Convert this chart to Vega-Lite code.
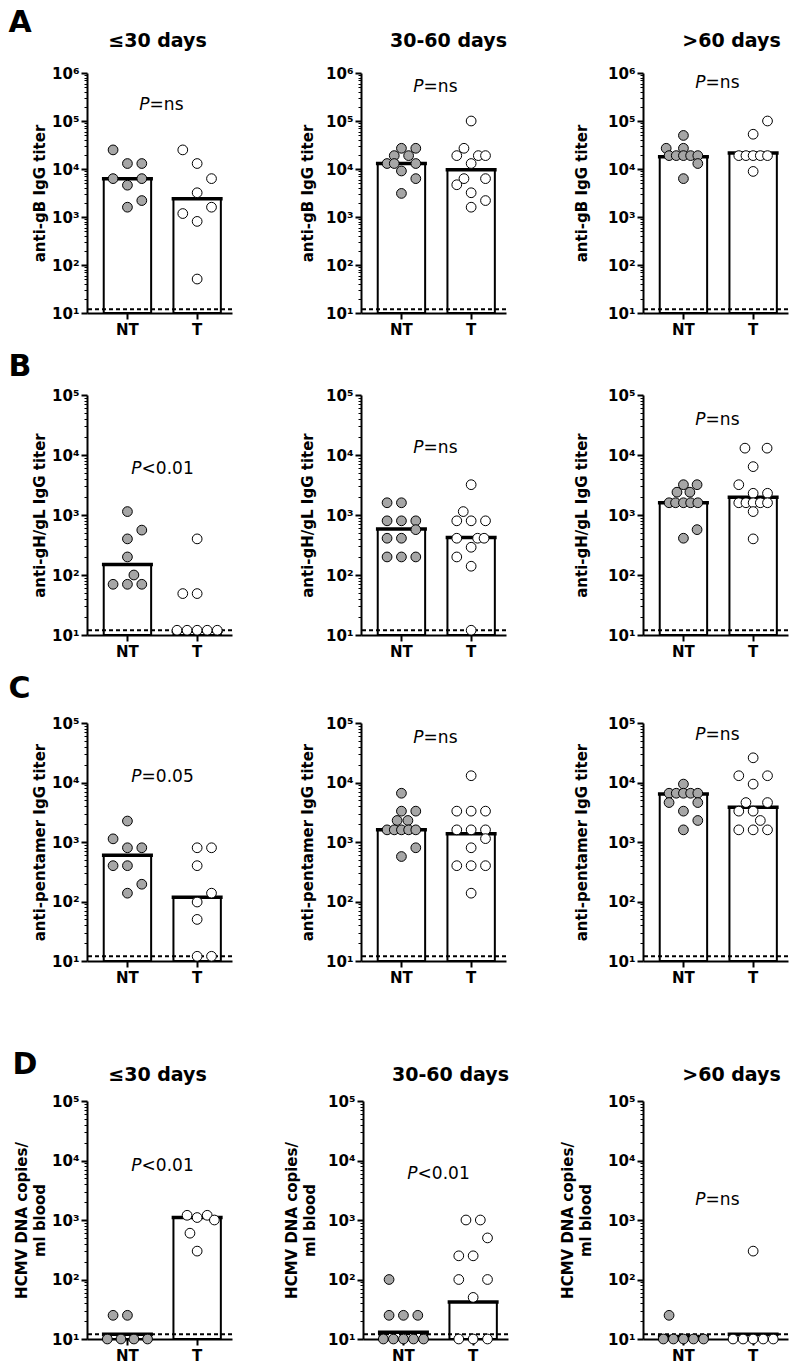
{
"$schema": "https://vega.github.io/schema/vega-lite/v6.json",
"padding": {"left": 8, "top": 8, "right": 0, "bottom": 0},
"config": {
  "view": {"stroke": null},
  "axis": {"domainColor": "black", "domainWidth": 2, "tickColor": "black", "labelColor": "black", "titleColor": "black", "grid": false, "labelFont": "DejaVu Sans", "labelFontWeight": "bold", "labelFontSize": 15, "titleFont": "DejaVu Sans", "titleFontWeight": "bold", "titleFontSize": 15, "labelOverlap": false, "labelBound": false, "labelPadding": 2},
  "axisX": {"tickSize": 6, "tickWidth": 2, "labelAngle": 0, "labelPadding": 3},
  "title": {"font": "DejaVu Sans", "fontWeight": "bold", "color": "black", "fontSize": 19},
  "text": {"font": "DejaVu Sans", "color": "black"}
},
"datasets": {
"gm": [
{"r":"A","c":1,"g":"NT","m":6300},{"r":"A","c":1,"g":"T","m":2400},
{"r":"A","c":2,"g":"NT","m":13000},{"r":"A","c":2,"g":"T","m":9700},
{"r":"A","c":3,"g":"NT","m":18000},{"r":"A","c":3,"g":"T","m":21500},
{"r":"B","c":1,"g":"NT","m":150},{"r":"B","c":1,"g":"T","m":11.5},
{"r":"B","c":2,"g":"NT","m":585},{"r":"B","c":2,"g":"T","m":420},
{"r":"B","c":3,"g":"NT","m":1600},{"r":"B","c":3,"g":"T","m":1970},
{"r":"C","c":1,"g":"NT","m":600},{"r":"C","c":1,"g":"T","m":118},
{"r":"C","c":2,"g":"NT","m":1600},{"r":"C","c":2,"g":"T","m":1380},
{"r":"C","c":3,"g":"NT","m":6400},{"r":"C","c":3,"g":"T","m":3840},
{"r":"D","c":1,"g":"NT","m":12},{"r":"D","c":1,"g":"T","m":1100},
{"r":"D","c":2,"g":"NT","m":13},{"r":"D","c":2,"g":"T","m":42},
{"r":"D","c":3,"g":"NT","m":11},{"r":"D","c":3,"g":"T","m":12}
],
"ptxt": [
{"r":"A","c":1,"label":"=ns","y":220000},{"r":"A","c":2,"label":"=ns","y":500000},{"r":"A","c":3,"label":"=ns","y":620000},
{"r":"B","c":1,"label":"<0.01","y":5900},{"r":"B","c":2,"label":"=ns","y":13000},{"r":"B","c":3,"label":"=ns","y":38000},
{"r":"C","c":1,"label":"=0.05","y":12400},{"r":"C","c":2,"label":"=ns","y":55000},{"r":"C","c":3,"label":"=ns","y":62000},
{"r":"D","c":1,"label":"<0.01","y":8000},{"r":"D","c":2,"label":"<0.01","y":5900},{"r":"D","c":3,"label":"=ns","y":2200}
],
"pts": [
{"r":"A","c":1,"g":"NT","v":25000,"k":-1},{"r":"A","c":1,"g":"NT","v":13000,"k":0},{"r":"A","c":1,"g":"NT","v":13000,"k":1},{"r":"A","c":1,"g":"NT","v":6300,"k":-1},{"r":"A","c":1,"g":"NT","v":6300,"k":1},{"r":"A","c":1,"g":"NT","v":4600,"k":0},{"r":"A","c":1,"g":"NT","v":2200,"k":1},{"r":"A","c":1,"g":"NT","v":1600,"k":0},
{"r":"A","c":1,"g":"T","v":25000,"k":-1},{"r":"A","c":1,"g":"T","v":13000,"k":0},{"r":"A","c":1,"g":"T","v":6300,"k":1},{"r":"A","c":1,"g":"T","v":3200,"k":0},{"r":"A","c":1,"g":"T","v":1600,"k":1},{"r":"A","c":1,"g":"T","v":1180,"k":-1},{"r":"A","c":1,"g":"T","v":810,"k":0},{"r":"A","c":1,"g":"T","v":51,"k":0},
{"r":"A","c":2,"g":"NT","v":27000,"k":0},{"r":"A","c":2,"g":"NT","v":27000,"k":1},{"r":"A","c":2,"g":"NT","v":19000,"k":-0.5},{"r":"A","c":2,"g":"NT","v":19000,"k":0.5},{"r":"A","c":2,"g":"NT","v":13000,"k":-1},{"r":"A","c":2,"g":"NT","v":13000,"k":-0.5},{"r":"A","c":2,"g":"NT","v":13000,"k":1},{"r":"A","c":2,"g":"NT","v":9100,"k":0},{"r":"A","c":2,"g":"NT","v":6300,"k":1},{"r":"A","c":2,"g":"NT","v":3100,"k":0},
{"r":"A","c":2,"g":"T","v":100000,"k":0},{"r":"A","c":2,"g":"T","v":27000,"k":-0.5},{"r":"A","c":2,"g":"T","v":19000,"k":-1},{"r":"A","c":2,"g":"T","v":19000,"k":0.5},{"r":"A","c":2,"g":"T","v":19000,"k":1},{"r":"A","c":2,"g":"T","v":13000,"k":0},{"r":"A","c":2,"g":"T","v":6300,"k":-0.5},{"r":"A","c":2,"g":"T","v":6300,"k":1},{"r":"A","c":2,"g":"T","v":4700,"k":-1},{"r":"A","c":2,"g":"T","v":3200,"k":0},{"r":"A","c":2,"g":"T","v":2200,"k":1},{"r":"A","c":2,"g":"T","v":1600,"k":0},
{"r":"A","c":3,"g":"NT","v":50000,"k":0},{"r":"A","c":3,"g":"NT","v":27000,"k":-1.2},{"r":"A","c":3,"g":"NT","v":27000,"k":0},{"r":"A","c":3,"g":"NT","v":19000,"k":-1},{"r":"A","c":3,"g":"NT","v":19000,"k":-0.5},{"r":"A","c":3,"g":"NT","v":19000,"k":0},{"r":"A","c":3,"g":"NT","v":19000,"k":0.5},{"r":"A","c":3,"g":"NT","v":19000,"k":1},{"r":"A","c":3,"g":"NT","v":13000,"k":1},{"r":"A","c":3,"g":"NT","v":6300,"k":0},
{"r":"A","c":3,"g":"T","v":100000,"k":1},{"r":"A","c":3,"g":"T","v":53000,"k":0},{"r":"A","c":3,"g":"T","v":19000,"k":-1},{"r":"A","c":3,"g":"T","v":19000,"k":-0.5},{"r":"A","c":3,"g":"T","v":19000,"k":0},{"r":"A","c":3,"g":"T","v":19000,"k":0.5},{"r":"A","c":3,"g":"T","v":19000,"k":1},{"r":"A","c":3,"g":"T","v":8900,"k":0},
{"r":"B","c":1,"g":"NT","v":1140,"k":0},{"r":"B","c":1,"g":"NT","v":560,"k":1},{"r":"B","c":1,"g":"NT","v":400,"k":0},{"r":"B","c":1,"g":"NT","v":200,"k":0},{"r":"B","c":1,"g":"NT","v":100,"k":0.45},{"r":"B","c":1,"g":"NT","v":70,"k":-1},{"r":"B","c":1,"g":"NT","v":70,"k":0},{"r":"B","c":1,"g":"NT","v":70,"k":1},
{"r":"B","c":1,"g":"T","v":400,"k":0},{"r":"B","c":1,"g":"T","v":49,"k":-1},{"r":"B","c":1,"g":"T","v":49,"k":0},{"r":"B","c":1,"g":"T","v":12,"k":-1.4},{"r":"B","c":1,"g":"T","v":12,"k":-0.7},{"r":"B","c":1,"g":"T","v":12,"k":0},{"r":"B","c":1,"g":"T","v":12,"k":0.7},{"r":"B","c":1,"g":"T","v":12,"k":1.4},
{"r":"B","c":2,"g":"NT","v":1600,"k":-1},{"r":"B","c":2,"g":"NT","v":1600,"k":0},{"r":"B","c":2,"g":"NT","v":800,"k":-1},{"r":"B","c":2,"g":"NT","v":800,"k":0},{"r":"B","c":2,"g":"NT","v":800,"k":1},{"r":"B","c":2,"g":"NT","v":570,"k":1},{"r":"B","c":2,"g":"NT","v":410,"k":-1},{"r":"B","c":2,"g":"NT","v":410,"k":0},{"r":"B","c":2,"g":"NT","v":200,"k":-1},{"r":"B","c":2,"g":"NT","v":200,"k":0},{"r":"B","c":2,"g":"NT","v":200,"k":1},
{"r":"B","c":2,"g":"T","v":3200,"k":0},{"r":"B","c":2,"g":"T","v":1140,"k":-0.55},{"r":"B","c":2,"g":"T","v":800,"k":-1},{"r":"B","c":2,"g":"T","v":800,"k":0},{"r":"B","c":2,"g":"T","v":800,"k":1},{"r":"B","c":2,"g":"T","v":410,"k":-1},{"r":"B","c":2,"g":"T","v":410,"k":0.45},{"r":"B","c":2,"g":"T","v":410,"k":0.9},{"r":"B","c":2,"g":"T","v":290,"k":0},{"r":"B","c":2,"g":"T","v":200,"k":-1},{"r":"B","c":2,"g":"T","v":140,"k":0},{"r":"B","c":2,"g":"T","v":12,"k":0},
{"r":"B","c":3,"g":"NT","v":3200,"k":0},{"r":"B","c":3,"g":"NT","v":3200,"k":0.95},{"r":"B","c":3,"g":"NT","v":2400,"k":-0.45},{"r":"B","c":3,"g":"NT","v":2400,"k":0.45},{"r":"B","c":3,"g":"NT","v":1600,"k":-1},{"r":"B","c":3,"g":"NT","v":1600,"k":-0.55},{"r":"B","c":3,"g":"NT","v":1600,"k":0},{"r":"B","c":3,"g":"NT","v":1600,"k":0.5},{"r":"B","c":3,"g":"NT","v":1600,"k":1},{"r":"B","c":3,"g":"NT","v":570,"k":0.95},{"r":"B","c":3,"g":"NT","v":410,"k":0},
{"r":"B","c":3,"g":"T","v":13000,"k":-0.57},{"r":"B","c":3,"g":"T","v":13000,"k":0.97},{"r":"B","c":3,"g":"T","v":6400,"k":0},{"r":"B","c":3,"g":"T","v":3200,"k":-1},{"r":"B","c":3,"g":"T","v":2300,"k":0},{"r":"B","c":3,"g":"T","v":2300,"k":1},{"r":"B","c":3,"g":"T","v":1600,"k":-1},{"r":"B","c":3,"g":"T","v":1600,"k":-0.5},{"r":"B","c":3,"g":"T","v":1600,"k":0},{"r":"B","c":3,"g":"T","v":1600,"k":0.5},{"r":"B","c":3,"g":"T","v":1600,"k":1},{"r":"B","c":3,"g":"T","v":1140,"k":0},{"r":"B","c":3,"g":"T","v":400,"k":0},
{"r":"C","c":1,"g":"NT","v":2250,"k":0},{"r":"C","c":1,"g":"NT","v":1130,"k":-1},{"r":"C","c":1,"g":"NT","v":800,"k":0},{"r":"C","c":1,"g":"NT","v":800,"k":1},{"r":"C","c":1,"g":"NT","v":400,"k":-1},{"r":"C","c":1,"g":"NT","v":400,"k":0},{"r":"C","c":1,"g":"NT","v":195,"k":1},{"r":"C","c":1,"g":"NT","v":138,"k":0},
{"r":"C","c":1,"g":"T","v":800,"k":0},{"r":"C","c":1,"g":"T","v":800,"k":1},{"r":"C","c":1,"g":"T","v":400,"k":0},{"r":"C","c":1,"g":"T","v":138,"k":1},{"r":"C","c":1,"g":"T","v":98,"k":0},{"r":"C","c":1,"g":"T","v":50,"k":0},{"r":"C","c":1,"g":"T","v":12,"k":0},{"r":"C","c":1,"g":"T","v":12,"k":1},
{"r":"C","c":2,"g":"NT","v":6600,"k":0},{"r":"C","c":2,"g":"NT","v":3300,"k":0},{"r":"C","c":2,"g":"NT","v":3300,"k":1},{"r":"C","c":2,"g":"NT","v":2300,"k":-0.3},{"r":"C","c":2,"g":"NT","v":2300,"k":0.45},{"r":"C","c":2,"g":"NT","v":1600,"k":-1},{"r":"C","c":2,"g":"NT","v":1600,"k":-0.5},{"r":"C","c":2,"g":"NT","v":1600,"k":0},{"r":"C","c":2,"g":"NT","v":1600,"k":0.5},{"r":"C","c":2,"g":"NT","v":1600,"k":1},{"r":"C","c":2,"g":"NT","v":800,"k":1},{"r":"C","c":2,"g":"NT","v":570,"k":0},
{"r":"C","c":2,"g":"T","v":13000,"k":0},{"r":"C","c":2,"g":"T","v":3300,"k":-1},{"r":"C","c":2,"g":"T","v":3300,"k":0},{"r":"C","c":2,"g":"T","v":3300,"k":1},{"r":"C","c":2,"g":"T","v":1600,"k":-1},{"r":"C","c":2,"g":"T","v":1600,"k":0},{"r":"C","c":2,"g":"T","v":1600,"k":1},{"r":"C","c":2,"g":"T","v":1140,"k":1},{"r":"C","c":2,"g":"T","v":800,"k":0},{"r":"C","c":2,"g":"T","v":400,"k":-1},{"r":"C","c":2,"g":"T","v":400,"k":0},{"r":"C","c":2,"g":"T","v":400,"k":1},{"r":"C","c":2,"g":"T","v":138,"k":0},
{"r":"C","c":3,"g":"NT","v":9400,"k":0},{"r":"C","c":3,"g":"NT","v":6600,"k":-1},{"r":"C","c":3,"g":"NT","v":6600,"k":-0.5},{"r":"C","c":3,"g":"NT","v":6600,"k":0},{"r":"C","c":3,"g":"NT","v":6600,"k":0.5},{"r":"C","c":3,"g":"NT","v":6600,"k":1},{"r":"C","c":3,"g":"NT","v":4600,"k":-1},{"r":"C","c":3,"g":"NT","v":4600,"k":1},{"r":"C","c":3,"g":"NT","v":3300,"k":0},{"r":"C","c":3,"g":"NT","v":2300,"k":1},{"r":"C","c":3,"g":"NT","v":1600,"k":0},
{"r":"C","c":3,"g":"T","v":26000,"k":0},{"r":"C","c":3,"g":"T","v":13000,"k":-1},{"r":"C","c":3,"g":"T","v":13000,"k":1},{"r":"C","c":3,"g":"T","v":9400,"k":0},{"r":"C","c":3,"g":"T","v":4600,"k":-0.5},{"r":"C","c":3,"g":"T","v":4600,"k":1},{"r":"C","c":3,"g":"T","v":3300,"k":-1},{"r":"C","c":3,"g":"T","v":3300,"k":0},{"r":"C","c":3,"g":"T","v":2300,"k":0.5},{"r":"C","c":3,"g":"T","v":1600,"k":-1},{"r":"C","c":3,"g":"T","v":1600,"k":0},{"r":"C","c":3,"g":"T","v":1600,"k":1},
{"r":"D","c":1,"g":"NT","v":25,"k":-1},{"r":"D","c":1,"g":"NT","v":25,"k":0},{"r":"D","c":1,"g":"NT","v":10,"k":-1.4},{"r":"D","c":1,"g":"NT","v":10,"k":-0.45},{"r":"D","c":1,"g":"NT","v":10,"k":0.45},{"r":"D","c":1,"g":"NT","v":10,"k":1.4},
{"r":"D","c":1,"g":"T","v":1200,"k":-0.7},{"r":"D","c":1,"g":"T","v":1200,"k":0.7},{"r":"D","c":1,"g":"T","v":1100,"k":0},{"r":"D","c":1,"g":"T","v":1000,"k":1.2},{"r":"D","c":1,"g":"T","v":600,"k":-0.5},{"r":"D","c":1,"g":"T","v":300,"k":0},
{"r":"D","c":2,"g":"NT","v":100,"k":-1},{"r":"D","c":2,"g":"NT","v":25,"k":-1},{"r":"D","c":2,"g":"NT","v":25,"k":0},{"r":"D","c":2,"g":"NT","v":25,"k":1},{"r":"D","c":2,"g":"NT","v":10,"k":-1.4},{"r":"D","c":2,"g":"NT","v":10,"k":-0.7},{"r":"D","c":2,"g":"NT","v":10,"k":0},{"r":"D","c":2,"g":"NT","v":10,"k":0.7},{"r":"D","c":2,"g":"NT","v":10,"k":1.4},
{"r":"D","c":2,"g":"T","v":1000,"k":-0.5},{"r":"D","c":2,"g":"T","v":1000,"k":0.5},{"r":"D","c":2,"g":"T","v":500,"k":1},{"r":"D","c":2,"g":"T","v":250,"k":-1},{"r":"D","c":2,"g":"T","v":250,"k":0},{"r":"D","c":2,"g":"T","v":100,"k":-1},{"r":"D","c":2,"g":"T","v":100,"k":1},{"r":"D","c":2,"g":"T","v":50,"k":0},{"r":"D","c":2,"g":"T","v":10,"k":-1},{"r":"D","c":2,"g":"T","v":10,"k":0},{"r":"D","c":2,"g":"T","v":10,"k":1},
{"r":"D","c":3,"g":"NT","v":25,"k":-1},{"r":"D","c":3,"g":"NT","v":10,"k":-1.4},{"r":"D","c":3,"g":"NT","v":10,"k":-0.7},{"r":"D","c":3,"g":"NT","v":10,"k":0},{"r":"D","c":3,"g":"NT","v":10,"k":0.7},{"r":"D","c":3,"g":"NT","v":10,"k":1.4},
{"r":"D","c":3,"g":"T","v":300,"k":0},{"r":"D","c":3,"g":"T","v":10,"k":-1.4},{"r":"D","c":3,"g":"T","v":10,"k":-0.7},{"r":"D","c":3,"g":"T","v":10,"k":0},{"r":"D","c":3,"g":"T","v":10,"k":0.7},{"r":"D","c":3,"g":"T","v":10,"k":1.4}
]
},
"spacing": 65,
"vconcat": [
{"spacing": 15, "vconcat": [
{"title": {"text": "A", "anchor": "start", "fontSize": 30, "dx": -24, "offset": -6}, "spacing": 67, "hconcat": [
{"width": 145, "height": 240, "title": {"text": "≤30 days", "offset": 15, "dx": -2}, "resolve": {"scale": {"xOffset": "independent"}},
 "layer": [
  {"data": {"name": "gm"}, "transform": [{"filter": "datum.r==='A'&&datum.c===1"}], "mark": {"type": "bar", "fill": "white", "stroke": "black", "strokeWidth": 2},
   "encoding": {"x": {"field": "g", "type": "nominal", "scale": {"type": "band", "domain": ["NT","T"], "paddingInner": 0.32, "paddingOuter": 0.2, "align": 0.6}, "axis": {"title": null}},
    "y": {"field": "m", "type": "quantitative", "scale": {"type": "log", "domain": [10, 1000000]}, "axis": {"title": "anti-gB IgG titer", "titlePadding": 4, "values": [10,20,30,40,50,60,70,80,90,100,200,300,400,500,600,700,800,900,1000,2000,3000,4000,5000,6000,7000,8000,9000,10000,20000,30000,40000,50000,60000,70000,80000,90000,100000,200000,300000,400000,500000,600000,700000,800000,900000,1000000], "labelExpr": "indexof([10,100,1000,10000,100000,1000000], datum.value) >= 0 ? '10' + ['¹','²','³','⁴','⁵','⁶'][indexof([10,100,1000,10000,100000,1000000], datum.value)] : ''", "tickSize": {"condition": {"test": "indexof([10,100,1000,10000,100000,1000000], datum.value) >= 0", "value": 6}, "value": 3}, "tickWidth": {"condition": {"test": "indexof([10,100,1000,10000,100000,1000000], datum.value) >= 0", "value": 2}, "value": 1}}},
    "y2": {"datum": 10}}},
  {"data": {"name": "gm"}, "transform": [{"filter": "datum.r==='A'&&datum.c===1"}], "mark": {"type": "tick", "color": "black", "opacity": 1, "thickness": 3.5, "size": 51}, "encoding": {"x": {"field": "g", "type": "nominal"}, "y": {"field": "m", "type": "quantitative"}}},
  {"data": {"name": "ptxt"}, "transform": [{"filter": "datum.r==='A'&&datum.c===1"}], "mark": {"type": "rule", "strokeDash": [4,3], "strokeWidth": 2, "color": "black"}, "encoding": {"y": {"datum": 12}}},
  {"data": {"name": "pts"}, "transform": [{"filter": "datum.r==='A'&&datum.c===1"}], "mark": {"type": "point", "shape": "circle", "filled": true, "size": 95, "stroke": "black", "strokeWidth": 1, "opacity": 1},
   "encoding": {"x": {"field": "g", "type": "nominal"}, "xOffset": {"field": "k", "type": "quantitative", "scale": {"domain": [-1.65, 1.65]}}, "y": {"field": "v", "type": "quantitative"}, "fill": {"field": "g", "type": "nominal", "scale": {"domain": ["NT","T"], "range": ["#a6a6a6","#ffffff"]}, "legend": null}}},
  {"data": {"name": "ptxt"}, "transform": [{"filter": "datum.r==='A'&&datum.c===1"}], "mark": {"type": "text", "text": "P", "fontStyle": "italic", "align": "right", "baseline": "middle", "fontSize": 17, "dx": {"expr": "datum.label === '=ns' ? -11 : -19"}}, "encoding": {"x": {"datum": "NT", "type": "nominal", "bandPosition": 1.2}, "y": {"field": "y", "type": "quantitative"}}},
  {"data": {"name": "ptxt"}, "transform": [{"filter": "datum.r==='A'&&datum.c===1"}], "mark": {"type": "text", "align": "left", "baseline": "middle", "fontSize": 17, "dx": {"expr": "datum.label === '=ns' ? -11 : -19"}}, "encoding": {"x": {"datum": "NT", "type": "nominal", "bandPosition": 1.2}, "y": {"field": "y", "type": "quantitative"}, "text": {"field": "label"}}}
 ]},
{"width": 145, "height": 240, "title": {"text": "30-60 days", "offset": 15, "dx": 15}, "resolve": {"scale": {"xOffset": "independent"}},
 "layer": [
  {"data": {"name": "gm"}, "transform": [{"filter": "datum.r==='A'&&datum.c===2"}], "mark": {"type": "bar", "fill": "white", "stroke": "black", "strokeWidth": 2},
   "encoding": {"x": {"field": "g", "type": "nominal", "scale": {"type": "band", "domain": ["NT","T"], "paddingInner": 0.32, "paddingOuter": 0.2, "align": 0.6}, "axis": {"title": null}},
    "y": {"field": "m", "type": "quantitative", "scale": {"type": "log", "domain": [10, 1000000]}, "axis": {"title": "anti-gB IgG titer", "titlePadding": 10, "values": [10,20,30,40,50,60,70,80,90,100,200,300,400,500,600,700,800,900,1000,2000,3000,4000,5000,6000,7000,8000,9000,10000,20000,30000,40000,50000,60000,70000,80000,90000,100000,200000,300000,400000,500000,600000,700000,800000,900000,1000000], "labelExpr": "indexof([10,100,1000,10000,100000,1000000], datum.value) >= 0 ? '10' + ['¹','²','³','⁴','⁵','⁶'][indexof([10,100,1000,10000,100000,1000000], datum.value)] : ''", "tickSize": {"condition": {"test": "indexof([10,100,1000,10000,100000,1000000], datum.value) >= 0", "value": 6}, "value": 3}, "tickWidth": {"condition": {"test": "indexof([10,100,1000,10000,100000,1000000], datum.value) >= 0", "value": 2}, "value": 1}}},
    "y2": {"datum": 10}}},
  {"data": {"name": "gm"}, "transform": [{"filter": "datum.r==='A'&&datum.c===2"}], "mark": {"type": "tick", "color": "black", "opacity": 1, "thickness": 3.5, "size": 51}, "encoding": {"x": {"field": "g", "type": "nominal"}, "y": {"field": "m", "type": "quantitative"}}},
  {"data": {"name": "ptxt"}, "transform": [{"filter": "datum.r==='A'&&datum.c===2"}], "mark": {"type": "rule", "strokeDash": [4,3], "strokeWidth": 2, "color": "black"}, "encoding": {"y": {"datum": 12}}},
  {"data": {"name": "pts"}, "transform": [{"filter": "datum.r==='A'&&datum.c===2"}], "mark": {"type": "point", "shape": "circle", "filled": true, "size": 95, "stroke": "black", "strokeWidth": 1, "opacity": 1},
   "encoding": {"x": {"field": "g", "type": "nominal"}, "xOffset": {"field": "k", "type": "quantitative", "scale": {"domain": [-1.65, 1.65]}}, "y": {"field": "v", "type": "quantitative"}, "fill": {"field": "g", "type": "nominal", "scale": {"domain": ["NT","T"], "range": ["#a6a6a6","#ffffff"]}, "legend": null}}},
  {"data": {"name": "ptxt"}, "transform": [{"filter": "datum.r==='A'&&datum.c===2"}], "mark": {"type": "text", "text": "P", "fontStyle": "italic", "align": "right", "baseline": "middle", "fontSize": 17, "dx": {"expr": "datum.label === '=ns' ? -11 : -19"}}, "encoding": {"x": {"datum": "NT", "type": "nominal", "bandPosition": 1.2}, "y": {"field": "y", "type": "quantitative"}}},
  {"data": {"name": "ptxt"}, "transform": [{"filter": "datum.r==='A'&&datum.c===2"}], "mark": {"type": "text", "align": "left", "baseline": "middle", "fontSize": 17, "dx": {"expr": "datum.label === '=ns' ? -11 : -19"}}, "encoding": {"x": {"datum": "NT", "type": "nominal", "bandPosition": 1.2}, "y": {"field": "y", "type": "quantitative"}, "text": {"field": "label"}}}
 ]},
{"width": 145, "height": 240, "title": {"text": ">60 days", "offset": 15, "dx": 16}, "resolve": {"scale": {"xOffset": "independent"}},
 "layer": [
  {"data": {"name": "gm"}, "transform": [{"filter": "datum.r==='A'&&datum.c===3"}], "mark": {"type": "bar", "fill": "white", "stroke": "black", "strokeWidth": 2},
   "encoding": {"x": {"field": "g", "type": "nominal", "scale": {"type": "band", "domain": ["NT","T"], "paddingInner": 0.32, "paddingOuter": 0.2, "align": 0.6}, "axis": {"title": null}},
    "y": {"field": "m", "type": "quantitative", "scale": {"type": "log", "domain": [10, 1000000]}, "axis": {"title": "anti-gB IgG titer", "titlePadding": 18, "values": [10,20,30,40,50,60,70,80,90,100,200,300,400,500,600,700,800,900,1000,2000,3000,4000,5000,6000,7000,8000,9000,10000,20000,30000,40000,50000,60000,70000,80000,90000,100000,200000,300000,400000,500000,600000,700000,800000,900000,1000000], "labelExpr": "indexof([10,100,1000,10000,100000,1000000], datum.value) >= 0 ? '10' + ['¹','²','³','⁴','⁵','⁶'][indexof([10,100,1000,10000,100000,1000000], datum.value)] : ''", "tickSize": {"condition": {"test": "indexof([10,100,1000,10000,100000,1000000], datum.value) >= 0", "value": 6}, "value": 3}, "tickWidth": {"condition": {"test": "indexof([10,100,1000,10000,100000,1000000], datum.value) >= 0", "value": 2}, "value": 1}}},
    "y2": {"datum": 10}}},
  {"data": {"name": "gm"}, "transform": [{"filter": "datum.r==='A'&&datum.c===3"}], "mark": {"type": "tick", "color": "black", "opacity": 1, "thickness": 3.5, "size": 51}, "encoding": {"x": {"field": "g", "type": "nominal"}, "y": {"field": "m", "type": "quantitative"}}},
  {"data": {"name": "ptxt"}, "transform": [{"filter": "datum.r==='A'&&datum.c===3"}], "mark": {"type": "rule", "strokeDash": [4,3], "strokeWidth": 2, "color": "black"}, "encoding": {"y": {"datum": 12}}},
  {"data": {"name": "pts"}, "transform": [{"filter": "datum.r==='A'&&datum.c===3"}], "mark": {"type": "point", "shape": "circle", "filled": true, "size": 95, "stroke": "black", "strokeWidth": 1, "opacity": 1},
   "encoding": {"x": {"field": "g", "type": "nominal"}, "xOffset": {"field": "k", "type": "quantitative", "scale": {"domain": [-1.65, 1.65]}}, "y": {"field": "v", "type": "quantitative"}, "fill": {"field": "g", "type": "nominal", "scale": {"domain": ["NT","T"], "range": ["#a6a6a6","#ffffff"]}, "legend": null}}},
  {"data": {"name": "ptxt"}, "transform": [{"filter": "datum.r==='A'&&datum.c===3"}], "mark": {"type": "text", "text": "P", "fontStyle": "italic", "align": "right", "baseline": "middle", "fontSize": 17, "dx": {"expr": "datum.label === '=ns' ? -11 : -19"}}, "encoding": {"x": {"datum": "NT", "type": "nominal", "bandPosition": 1.2}, "y": {"field": "y", "type": "quantitative"}}},
  {"data": {"name": "ptxt"}, "transform": [{"filter": "datum.r==='A'&&datum.c===3"}], "mark": {"type": "text", "align": "left", "baseline": "middle", "fontSize": 17, "dx": {"expr": "datum.label === '=ns' ? -11 : -19"}}, "encoding": {"x": {"datum": "NT", "type": "nominal", "bandPosition": 1.2}, "y": {"field": "y", "type": "quantitative"}, "text": {"field": "label"}}}
 ]}
]},
{"title": {"text": "B", "anchor": "start", "fontSize": 30, "dx": -24, "offset": 6}, "spacing": 67, "hconcat": [
{"width": 145, "height": 240, "resolve": {"scale": {"xOffset": "independent"}},
 "layer": [
  {"data": {"name": "gm"}, "transform": [{"filter": "datum.r==='B'&&datum.c===1"}], "mark": {"type": "bar", "fill": "white", "stroke": "black", "strokeWidth": 2},
   "encoding": {"x": {"field": "g", "type": "nominal", "scale": {"type": "band", "domain": ["NT","T"], "paddingInner": 0.32, "paddingOuter": 0.2, "align": 0.6}, "axis": {"title": null}},
    "y": {"field": "m", "type": "quantitative", "scale": {"type": "log", "domain": [10, 100000]}, "axis": {"title": "anti-gH/gL IgG titer", "titlePadding": 4, "values": [10,20,30,40,50,60,70,80,90,100,200,300,400,500,600,700,800,900,1000,2000,3000,4000,5000,6000,7000,8000,9000,10000,20000,30000,40000,50000,60000,70000,80000,90000,100000], "labelExpr": "indexof([10,100,1000,10000,100000,1000000], datum.value) >= 0 ? '10' + ['¹','²','³','⁴','⁵','⁶'][indexof([10,100,1000,10000,100000,1000000], datum.value)] : ''", "tickSize": {"condition": {"test": "indexof([10,100,1000,10000,100000,1000000], datum.value) >= 0", "value": 6}, "value": 3}, "tickWidth": {"condition": {"test": "indexof([10,100,1000,10000,100000,1000000], datum.value) >= 0", "value": 2}, "value": 1}}},
    "y2": {"datum": 10}}},
  {"data": {"name": "gm"}, "transform": [{"filter": "datum.r==='B'&&datum.c===1"}], "mark": {"type": "tick", "color": "black", "opacity": 1, "thickness": 3.5, "size": 51}, "encoding": {"x": {"field": "g", "type": "nominal"}, "y": {"field": "m", "type": "quantitative"}}},
  {"data": {"name": "ptxt"}, "transform": [{"filter": "datum.r==='B'&&datum.c===1"}], "mark": {"type": "rule", "strokeDash": [4,3], "strokeWidth": 2, "color": "black"}, "encoding": {"y": {"datum": 12}}},
  {"data": {"name": "pts"}, "transform": [{"filter": "datum.r==='B'&&datum.c===1"}], "mark": {"type": "point", "shape": "circle", "filled": true, "size": 95, "stroke": "black", "strokeWidth": 1, "opacity": 1},
   "encoding": {"x": {"field": "g", "type": "nominal"}, "xOffset": {"field": "k", "type": "quantitative", "scale": {"domain": [-1.65, 1.65]}}, "y": {"field": "v", "type": "quantitative"}, "fill": {"field": "g", "type": "nominal", "scale": {"domain": ["NT","T"], "range": ["#a6a6a6","#ffffff"]}, "legend": null}}},
  {"data": {"name": "ptxt"}, "transform": [{"filter": "datum.r==='B'&&datum.c===1"}], "mark": {"type": "text", "text": "P", "fontStyle": "italic", "align": "right", "baseline": "middle", "fontSize": 17, "dx": {"expr": "datum.label === '=ns' ? -11 : -19"}}, "encoding": {"x": {"datum": "NT", "type": "nominal", "bandPosition": 1.2}, "y": {"field": "y", "type": "quantitative"}}},
  {"data": {"name": "ptxt"}, "transform": [{"filter": "datum.r==='B'&&datum.c===1"}], "mark": {"type": "text", "align": "left", "baseline": "middle", "fontSize": 17, "dx": {"expr": "datum.label === '=ns' ? -11 : -19"}}, "encoding": {"x": {"datum": "NT", "type": "nominal", "bandPosition": 1.2}, "y": {"field": "y", "type": "quantitative"}, "text": {"field": "label"}}}
 ]},
{"width": 145, "height": 240, "resolve": {"scale": {"xOffset": "independent"}},
 "layer": [
  {"data": {"name": "gm"}, "transform": [{"filter": "datum.r==='B'&&datum.c===2"}], "mark": {"type": "bar", "fill": "white", "stroke": "black", "strokeWidth": 2},
   "encoding": {"x": {"field": "g", "type": "nominal", "scale": {"type": "band", "domain": ["NT","T"], "paddingInner": 0.32, "paddingOuter": 0.2, "align": 0.6}, "axis": {"title": null}},
    "y": {"field": "m", "type": "quantitative", "scale": {"type": "log", "domain": [10, 100000]}, "axis": {"title": "anti-gH/gL IgG titer", "titlePadding": 10, "values": [10,20,30,40,50,60,70,80,90,100,200,300,400,500,600,700,800,900,1000,2000,3000,4000,5000,6000,7000,8000,9000,10000,20000,30000,40000,50000,60000,70000,80000,90000,100000], "labelExpr": "indexof([10,100,1000,10000,100000,1000000], datum.value) >= 0 ? '10' + ['¹','²','³','⁴','⁵','⁶'][indexof([10,100,1000,10000,100000,1000000], datum.value)] : ''", "tickSize": {"condition": {"test": "indexof([10,100,1000,10000,100000,1000000], datum.value) >= 0", "value": 6}, "value": 3}, "tickWidth": {"condition": {"test": "indexof([10,100,1000,10000,100000,1000000], datum.value) >= 0", "value": 2}, "value": 1}}},
    "y2": {"datum": 10}}},
  {"data": {"name": "gm"}, "transform": [{"filter": "datum.r==='B'&&datum.c===2"}], "mark": {"type": "tick", "color": "black", "opacity": 1, "thickness": 3.5, "size": 51}, "encoding": {"x": {"field": "g", "type": "nominal"}, "y": {"field": "m", "type": "quantitative"}}},
  {"data": {"name": "ptxt"}, "transform": [{"filter": "datum.r==='B'&&datum.c===2"}], "mark": {"type": "rule", "strokeDash": [4,3], "strokeWidth": 2, "color": "black"}, "encoding": {"y": {"datum": 12}}},
  {"data": {"name": "pts"}, "transform": [{"filter": "datum.r==='B'&&datum.c===2"}], "mark": {"type": "point", "shape": "circle", "filled": true, "size": 95, "stroke": "black", "strokeWidth": 1, "opacity": 1},
   "encoding": {"x": {"field": "g", "type": "nominal"}, "xOffset": {"field": "k", "type": "quantitative", "scale": {"domain": [-1.65, 1.65]}}, "y": {"field": "v", "type": "quantitative"}, "fill": {"field": "g", "type": "nominal", "scale": {"domain": ["NT","T"], "range": ["#a6a6a6","#ffffff"]}, "legend": null}}},
  {"data": {"name": "ptxt"}, "transform": [{"filter": "datum.r==='B'&&datum.c===2"}], "mark": {"type": "text", "text": "P", "fontStyle": "italic", "align": "right", "baseline": "middle", "fontSize": 17, "dx": {"expr": "datum.label === '=ns' ? -11 : -19"}}, "encoding": {"x": {"datum": "NT", "type": "nominal", "bandPosition": 1.2}, "y": {"field": "y", "type": "quantitative"}}},
  {"data": {"name": "ptxt"}, "transform": [{"filter": "datum.r==='B'&&datum.c===2"}], "mark": {"type": "text", "align": "left", "baseline": "middle", "fontSize": 17, "dx": {"expr": "datum.label === '=ns' ? -11 : -19"}}, "encoding": {"x": {"datum": "NT", "type": "nominal", "bandPosition": 1.2}, "y": {"field": "y", "type": "quantitative"}, "text": {"field": "label"}}}
 ]},
{"width": 145, "height": 240, "resolve": {"scale": {"xOffset": "independent"}},
 "layer": [
  {"data": {"name": "gm"}, "transform": [{"filter": "datum.r==='B'&&datum.c===3"}], "mark": {"type": "bar", "fill": "white", "stroke": "black", "strokeWidth": 2},
   "encoding": {"x": {"field": "g", "type": "nominal", "scale": {"type": "band", "domain": ["NT","T"], "paddingInner": 0.32, "paddingOuter": 0.2, "align": 0.6}, "axis": {"title": null}},
    "y": {"field": "m", "type": "quantitative", "scale": {"type": "log", "domain": [10, 100000]}, "axis": {"title": "anti-gH/gL IgG titer", "titlePadding": 18, "values": [10,20,30,40,50,60,70,80,90,100,200,300,400,500,600,700,800,900,1000,2000,3000,4000,5000,6000,7000,8000,9000,10000,20000,30000,40000,50000,60000,70000,80000,90000,100000], "labelExpr": "indexof([10,100,1000,10000,100000,1000000], datum.value) >= 0 ? '10' + ['¹','²','³','⁴','⁵','⁶'][indexof([10,100,1000,10000,100000,1000000], datum.value)] : ''", "tickSize": {"condition": {"test": "indexof([10,100,1000,10000,100000,1000000], datum.value) >= 0", "value": 6}, "value": 3}, "tickWidth": {"condition": {"test": "indexof([10,100,1000,10000,100000,1000000], datum.value) >= 0", "value": 2}, "value": 1}}},
    "y2": {"datum": 10}}},
  {"data": {"name": "gm"}, "transform": [{"filter": "datum.r==='B'&&datum.c===3"}], "mark": {"type": "tick", "color": "black", "opacity": 1, "thickness": 3.5, "size": 51}, "encoding": {"x": {"field": "g", "type": "nominal"}, "y": {"field": "m", "type": "quantitative"}}},
  {"data": {"name": "ptxt"}, "transform": [{"filter": "datum.r==='B'&&datum.c===3"}], "mark": {"type": "rule", "strokeDash": [4,3], "strokeWidth": 2, "color": "black"}, "encoding": {"y": {"datum": 12}}},
  {"data": {"name": "pts"}, "transform": [{"filter": "datum.r==='B'&&datum.c===3"}], "mark": {"type": "point", "shape": "circle", "filled": true, "size": 95, "stroke": "black", "strokeWidth": 1, "opacity": 1},
   "encoding": {"x": {"field": "g", "type": "nominal"}, "xOffset": {"field": "k", "type": "quantitative", "scale": {"domain": [-1.65, 1.65]}}, "y": {"field": "v", "type": "quantitative"}, "fill": {"field": "g", "type": "nominal", "scale": {"domain": ["NT","T"], "range": ["#a6a6a6","#ffffff"]}, "legend": null}}},
  {"data": {"name": "ptxt"}, "transform": [{"filter": "datum.r==='B'&&datum.c===3"}], "mark": {"type": "text", "text": "P", "fontStyle": "italic", "align": "right", "baseline": "middle", "fontSize": 17, "dx": {"expr": "datum.label === '=ns' ? -11 : -19"}}, "encoding": {"x": {"datum": "NT", "type": "nominal", "bandPosition": 1.2}, "y": {"field": "y", "type": "quantitative"}}},
  {"data": {"name": "ptxt"}, "transform": [{"filter": "datum.r==='B'&&datum.c===3"}], "mark": {"type": "text", "align": "left", "baseline": "middle", "fontSize": 17, "dx": {"expr": "datum.label === '=ns' ? -11 : -19"}}, "encoding": {"x": {"datum": "NT", "type": "nominal", "bandPosition": 1.2}, "y": {"field": "y", "type": "quantitative"}, "text": {"field": "label"}}}
 ]}
]},
{"title": {"text": "C", "anchor": "start", "fontSize": 30, "dx": -24, "offset": 12}, "spacing": 67, "hconcat": [
{"width": 145, "height": 238, "resolve": {"scale": {"xOffset": "independent"}},
 "layer": [
  {"data": {"name": "gm"}, "transform": [{"filter": "datum.r==='C'&&datum.c===1"}], "mark": {"type": "bar", "fill": "white", "stroke": "black", "strokeWidth": 2},
   "encoding": {"x": {"field": "g", "type": "nominal", "scale": {"type": "band", "domain": ["NT","T"], "paddingInner": 0.32, "paddingOuter": 0.2, "align": 0.6}, "axis": {"title": null}},
    "y": {"field": "m", "type": "quantitative", "scale": {"type": "log", "domain": [10, 100000]}, "axis": {"title": "anti-pentamer IgG titer", "titlePadding": 4, "values": [10,20,30,40,50,60,70,80,90,100,200,300,400,500,600,700,800,900,1000,2000,3000,4000,5000,6000,7000,8000,9000,10000,20000,30000,40000,50000,60000,70000,80000,90000,100000], "labelExpr": "indexof([10,100,1000,10000,100000,1000000], datum.value) >= 0 ? '10' + ['¹','²','³','⁴','⁵','⁶'][indexof([10,100,1000,10000,100000,1000000], datum.value)] : ''", "tickSize": {"condition": {"test": "indexof([10,100,1000,10000,100000,1000000], datum.value) >= 0", "value": 6}, "value": 3}, "tickWidth": {"condition": {"test": "indexof([10,100,1000,10000,100000,1000000], datum.value) >= 0", "value": 2}, "value": 1}}},
    "y2": {"datum": 10}}},
  {"data": {"name": "gm"}, "transform": [{"filter": "datum.r==='C'&&datum.c===1"}], "mark": {"type": "tick", "color": "black", "opacity": 1, "thickness": 3.5, "size": 51}, "encoding": {"x": {"field": "g", "type": "nominal"}, "y": {"field": "m", "type": "quantitative"}}},
  {"data": {"name": "ptxt"}, "transform": [{"filter": "datum.r==='C'&&datum.c===1"}], "mark": {"type": "rule", "strokeDash": [4,3], "strokeWidth": 2, "color": "black"}, "encoding": {"y": {"datum": 12}}},
  {"data": {"name": "pts"}, "transform": [{"filter": "datum.r==='C'&&datum.c===1"}], "mark": {"type": "point", "shape": "circle", "filled": true, "size": 95, "stroke": "black", "strokeWidth": 1, "opacity": 1},
   "encoding": {"x": {"field": "g", "type": "nominal"}, "xOffset": {"field": "k", "type": "quantitative", "scale": {"domain": [-1.65, 1.65]}}, "y": {"field": "v", "type": "quantitative"}, "fill": {"field": "g", "type": "nominal", "scale": {"domain": ["NT","T"], "range": ["#a6a6a6","#ffffff"]}, "legend": null}}},
  {"data": {"name": "ptxt"}, "transform": [{"filter": "datum.r==='C'&&datum.c===1"}], "mark": {"type": "text", "text": "P", "fontStyle": "italic", "align": "right", "baseline": "middle", "fontSize": 17, "dx": {"expr": "datum.label === '=ns' ? -11 : -19"}}, "encoding": {"x": {"datum": "NT", "type": "nominal", "bandPosition": 1.2}, "y": {"field": "y", "type": "quantitative"}}},
  {"data": {"name": "ptxt"}, "transform": [{"filter": "datum.r==='C'&&datum.c===1"}], "mark": {"type": "text", "align": "left", "baseline": "middle", "fontSize": 17, "dx": {"expr": "datum.label === '=ns' ? -11 : -19"}}, "encoding": {"x": {"datum": "NT", "type": "nominal", "bandPosition": 1.2}, "y": {"field": "y", "type": "quantitative"}, "text": {"field": "label"}}}
 ]},
{"width": 145, "height": 238, "resolve": {"scale": {"xOffset": "independent"}},
 "layer": [
  {"data": {"name": "gm"}, "transform": [{"filter": "datum.r==='C'&&datum.c===2"}], "mark": {"type": "bar", "fill": "white", "stroke": "black", "strokeWidth": 2},
   "encoding": {"x": {"field": "g", "type": "nominal", "scale": {"type": "band", "domain": ["NT","T"], "paddingInner": 0.32, "paddingOuter": 0.2, "align": 0.6}, "axis": {"title": null}},
    "y": {"field": "m", "type": "quantitative", "scale": {"type": "log", "domain": [10, 100000]}, "axis": {"title": "anti-pentamer IgG titer", "titlePadding": 10, "values": [10,20,30,40,50,60,70,80,90,100,200,300,400,500,600,700,800,900,1000,2000,3000,4000,5000,6000,7000,8000,9000,10000,20000,30000,40000,50000,60000,70000,80000,90000,100000], "labelExpr": "indexof([10,100,1000,10000,100000,1000000], datum.value) >= 0 ? '10' + ['¹','²','³','⁴','⁵','⁶'][indexof([10,100,1000,10000,100000,1000000], datum.value)] : ''", "tickSize": {"condition": {"test": "indexof([10,100,1000,10000,100000,1000000], datum.value) >= 0", "value": 6}, "value": 3}, "tickWidth": {"condition": {"test": "indexof([10,100,1000,10000,100000,1000000], datum.value) >= 0", "value": 2}, "value": 1}}},
    "y2": {"datum": 10}}},
  {"data": {"name": "gm"}, "transform": [{"filter": "datum.r==='C'&&datum.c===2"}], "mark": {"type": "tick", "color": "black", "opacity": 1, "thickness": 3.5, "size": 51}, "encoding": {"x": {"field": "g", "type": "nominal"}, "y": {"field": "m", "type": "quantitative"}}},
  {"data": {"name": "ptxt"}, "transform": [{"filter": "datum.r==='C'&&datum.c===2"}], "mark": {"type": "rule", "strokeDash": [4,3], "strokeWidth": 2, "color": "black"}, "encoding": {"y": {"datum": 12}}},
  {"data": {"name": "pts"}, "transform": [{"filter": "datum.r==='C'&&datum.c===2"}], "mark": {"type": "point", "shape": "circle", "filled": true, "size": 95, "stroke": "black", "strokeWidth": 1, "opacity": 1},
   "encoding": {"x": {"field": "g", "type": "nominal"}, "xOffset": {"field": "k", "type": "quantitative", "scale": {"domain": [-1.65, 1.65]}}, "y": {"field": "v", "type": "quantitative"}, "fill": {"field": "g", "type": "nominal", "scale": {"domain": ["NT","T"], "range": ["#a6a6a6","#ffffff"]}, "legend": null}}},
  {"data": {"name": "ptxt"}, "transform": [{"filter": "datum.r==='C'&&datum.c===2"}], "mark": {"type": "text", "text": "P", "fontStyle": "italic", "align": "right", "baseline": "middle", "fontSize": 17, "dx": {"expr": "datum.label === '=ns' ? -11 : -19"}}, "encoding": {"x": {"datum": "NT", "type": "nominal", "bandPosition": 1.2}, "y": {"field": "y", "type": "quantitative"}}},
  {"data": {"name": "ptxt"}, "transform": [{"filter": "datum.r==='C'&&datum.c===2"}], "mark": {"type": "text", "align": "left", "baseline": "middle", "fontSize": 17, "dx": {"expr": "datum.label === '=ns' ? -11 : -19"}}, "encoding": {"x": {"datum": "NT", "type": "nominal", "bandPosition": 1.2}, "y": {"field": "y", "type": "quantitative"}, "text": {"field": "label"}}}
 ]},
{"width": 145, "height": 238, "resolve": {"scale": {"xOffset": "independent"}},
 "layer": [
  {"data": {"name": "gm"}, "transform": [{"filter": "datum.r==='C'&&datum.c===3"}], "mark": {"type": "bar", "fill": "white", "stroke": "black", "strokeWidth": 2},
   "encoding": {"x": {"field": "g", "type": "nominal", "scale": {"type": "band", "domain": ["NT","T"], "paddingInner": 0.32, "paddingOuter": 0.2, "align": 0.6}, "axis": {"title": null}},
    "y": {"field": "m", "type": "quantitative", "scale": {"type": "log", "domain": [10, 100000]}, "axis": {"title": "anti-pentamer IgG titer", "titlePadding": 18, "values": [10,20,30,40,50,60,70,80,90,100,200,300,400,500,600,700,800,900,1000,2000,3000,4000,5000,6000,7000,8000,9000,10000,20000,30000,40000,50000,60000,70000,80000,90000,100000], "labelExpr": "indexof([10,100,1000,10000,100000,1000000], datum.value) >= 0 ? '10' + ['¹','²','³','⁴','⁵','⁶'][indexof([10,100,1000,10000,100000,1000000], datum.value)] : ''", "tickSize": {"condition": {"test": "indexof([10,100,1000,10000,100000,1000000], datum.value) >= 0", "value": 6}, "value": 3}, "tickWidth": {"condition": {"test": "indexof([10,100,1000,10000,100000,1000000], datum.value) >= 0", "value": 2}, "value": 1}}},
    "y2": {"datum": 10}}},
  {"data": {"name": "gm"}, "transform": [{"filter": "datum.r==='C'&&datum.c===3"}], "mark": {"type": "tick", "color": "black", "opacity": 1, "thickness": 3.5, "size": 51}, "encoding": {"x": {"field": "g", "type": "nominal"}, "y": {"field": "m", "type": "quantitative"}}},
  {"data": {"name": "ptxt"}, "transform": [{"filter": "datum.r==='C'&&datum.c===3"}], "mark": {"type": "rule", "strokeDash": [4,3], "strokeWidth": 2, "color": "black"}, "encoding": {"y": {"datum": 12}}},
  {"data": {"name": "pts"}, "transform": [{"filter": "datum.r==='C'&&datum.c===3"}], "mark": {"type": "point", "shape": "circle", "filled": true, "size": 95, "stroke": "black", "strokeWidth": 1, "opacity": 1},
   "encoding": {"x": {"field": "g", "type": "nominal"}, "xOffset": {"field": "k", "type": "quantitative", "scale": {"domain": [-1.65, 1.65]}}, "y": {"field": "v", "type": "quantitative"}, "fill": {"field": "g", "type": "nominal", "scale": {"domain": ["NT","T"], "range": ["#a6a6a6","#ffffff"]}, "legend": null}}},
  {"data": {"name": "ptxt"}, "transform": [{"filter": "datum.r==='C'&&datum.c===3"}], "mark": {"type": "text", "text": "P", "fontStyle": "italic", "align": "right", "baseline": "middle", "fontSize": 17, "dx": {"expr": "datum.label === '=ns' ? -11 : -19"}}, "encoding": {"x": {"datum": "NT", "type": "nominal", "bandPosition": 1.2}, "y": {"field": "y", "type": "quantitative"}}},
  {"data": {"name": "ptxt"}, "transform": [{"filter": "datum.r==='C'&&datum.c===3"}], "mark": {"type": "text", "align": "left", "baseline": "middle", "fontSize": 17, "dx": {"expr": "datum.label === '=ns' ? -11 : -19"}}, "encoding": {"x": {"datum": "NT", "type": "nominal", "bandPosition": 1.2}, "y": {"field": "y", "type": "quantitative"}, "text": {"field": "label"}}}
 ]}
]}
]},
{"title": {"text": "D", "anchor": "start", "fontSize": 30, "dx": -2, "offset": -14}, "spacing": 51, "hconcat": [
{"width": 145, "height": 238, "title": {"text": "≤30 days", "offset": 9, "dx": -2}, "resolve": {"scale": {"xOffset": "independent"}},
 "layer": [
  {"data": {"name": "gm"}, "transform": [{"filter": "datum.r==='D'&&datum.c===1"}], "mark": {"type": "bar", "fill": "white", "stroke": "black", "strokeWidth": 2},
   "encoding": {"x": {"field": "g", "type": "nominal", "scale": {"type": "band", "domain": ["NT","T"], "paddingInner": 0.32, "paddingOuter": 0.2, "align": 0.6}, "axis": {"title": null}},
    "y": {"field": "m", "type": "quantitative", "scale": {"type": "log", "domain": [10, 100000]}, "axis": {"title": ["HCMV DNA copies/", "ml blood"], "titleLineHeight": 18, "titlePadding": 4, "values": [10,20,30,40,50,60,70,80,90,100,200,300,400,500,600,700,800,900,1000,2000,3000,4000,5000,6000,7000,8000,9000,10000,20000,30000,40000,50000,60000,70000,80000,90000,100000], "labelExpr": "indexof([10,100,1000,10000,100000,1000000], datum.value) >= 0 ? '10' + ['¹','²','³','⁴','⁵','⁶'][indexof([10,100,1000,10000,100000,1000000], datum.value)] : ''", "tickSize": {"condition": {"test": "indexof([10,100,1000,10000,100000,1000000], datum.value) >= 0", "value": 6}, "value": 3}, "tickWidth": {"condition": {"test": "indexof([10,100,1000,10000,100000,1000000], datum.value) >= 0", "value": 2}, "value": 1}}},
    "y2": {"datum": 10}}},
  {"data": {"name": "gm"}, "transform": [{"filter": "datum.r==='D'&&datum.c===1"}], "mark": {"type": "tick", "color": "black", "opacity": 1, "thickness": 3.5, "size": 51}, "encoding": {"x": {"field": "g", "type": "nominal"}, "y": {"field": "m", "type": "quantitative"}}},
  {"data": {"name": "ptxt"}, "transform": [{"filter": "datum.r==='D'&&datum.c===1"}], "mark": {"type": "rule", "strokeDash": [4,3], "strokeWidth": 2, "color": "black"}, "encoding": {"y": {"datum": 12}}},
  {"data": {"name": "pts"}, "transform": [{"filter": "datum.r==='D'&&datum.c===1"}], "mark": {"type": "point", "shape": "circle", "filled": true, "size": 95, "stroke": "black", "strokeWidth": 1, "opacity": 1},
   "encoding": {"x": {"field": "g", "type": "nominal"}, "xOffset": {"field": "k", "type": "quantitative", "scale": {"domain": [-1.65, 1.65]}}, "y": {"field": "v", "type": "quantitative"}, "fill": {"field": "g", "type": "nominal", "scale": {"domain": ["NT","T"], "range": ["#a6a6a6","#ffffff"]}, "legend": null}}},
  {"data": {"name": "ptxt"}, "transform": [{"filter": "datum.r==='D'&&datum.c===1"}], "mark": {"type": "text", "text": "P", "fontStyle": "italic", "align": "right", "baseline": "middle", "fontSize": 17, "dx": {"expr": "datum.label === '=ns' ? -11 : -19"}}, "encoding": {"x": {"datum": "NT", "type": "nominal", "bandPosition": 1.2}, "y": {"field": "y", "type": "quantitative"}}},
  {"data": {"name": "ptxt"}, "transform": [{"filter": "datum.r==='D'&&datum.c===1"}], "mark": {"type": "text", "align": "left", "baseline": "middle", "fontSize": 17, "dx": {"expr": "datum.label === '=ns' ? -11 : -19"}}, "encoding": {"x": {"datum": "NT", "type": "nominal", "bandPosition": 1.2}, "y": {"field": "y", "type": "quantitative"}, "text": {"field": "label"}}}
 ]},
{"width": 145, "height": 238, "title": {"text": "30-60 days", "offset": 9, "dx": 15}, "resolve": {"scale": {"xOffset": "independent"}},
 "layer": [
  {"data": {"name": "gm"}, "transform": [{"filter": "datum.r==='D'&&datum.c===2"}], "mark": {"type": "bar", "fill": "white", "stroke": "black", "strokeWidth": 2},
   "encoding": {"x": {"field": "g", "type": "nominal", "scale": {"type": "band", "domain": ["NT","T"], "paddingInner": 0.32, "paddingOuter": 0.2, "align": 0.6}, "axis": {"title": null}},
    "y": {"field": "m", "type": "quantitative", "scale": {"type": "log", "domain": [10, 100000]}, "axis": {"title": ["HCMV DNA copies/", "ml blood"], "titleLineHeight": 18, "titlePadding": 10, "values": [10,20,30,40,50,60,70,80,90,100,200,300,400,500,600,700,800,900,1000,2000,3000,4000,5000,6000,7000,8000,9000,10000,20000,30000,40000,50000,60000,70000,80000,90000,100000], "labelExpr": "indexof([10,100,1000,10000,100000,1000000], datum.value) >= 0 ? '10' + ['¹','²','³','⁴','⁵','⁶'][indexof([10,100,1000,10000,100000,1000000], datum.value)] : ''", "tickSize": {"condition": {"test": "indexof([10,100,1000,10000,100000,1000000], datum.value) >= 0", "value": 6}, "value": 3}, "tickWidth": {"condition": {"test": "indexof([10,100,1000,10000,100000,1000000], datum.value) >= 0", "value": 2}, "value": 1}}},
    "y2": {"datum": 10}}},
  {"data": {"name": "gm"}, "transform": [{"filter": "datum.r==='D'&&datum.c===2"}], "mark": {"type": "tick", "color": "black", "opacity": 1, "thickness": 3.5, "size": 51}, "encoding": {"x": {"field": "g", "type": "nominal"}, "y": {"field": "m", "type": "quantitative"}}},
  {"data": {"name": "ptxt"}, "transform": [{"filter": "datum.r==='D'&&datum.c===2"}], "mark": {"type": "rule", "strokeDash": [4,3], "strokeWidth": 2, "color": "black"}, "encoding": {"y": {"datum": 12}}},
  {"data": {"name": "pts"}, "transform": [{"filter": "datum.r==='D'&&datum.c===2"}], "mark": {"type": "point", "shape": "circle", "filled": true, "size": 95, "stroke": "black", "strokeWidth": 1, "opacity": 1},
   "encoding": {"x": {"field": "g", "type": "nominal"}, "xOffset": {"field": "k", "type": "quantitative", "scale": {"domain": [-1.65, 1.65]}}, "y": {"field": "v", "type": "quantitative"}, "fill": {"field": "g", "type": "nominal", "scale": {"domain": ["NT","T"], "range": ["#a6a6a6","#ffffff"]}, "legend": null}}},
  {"data": {"name": "ptxt"}, "transform": [{"filter": "datum.r==='D'&&datum.c===2"}], "mark": {"type": "text", "text": "P", "fontStyle": "italic", "align": "right", "baseline": "middle", "fontSize": 17, "dx": {"expr": "datum.label === '=ns' ? -11 : -19"}}, "encoding": {"x": {"datum": "NT", "type": "nominal", "bandPosition": 1.2}, "y": {"field": "y", "type": "quantitative"}}},
  {"data": {"name": "ptxt"}, "transform": [{"filter": "datum.r==='D'&&datum.c===2"}], "mark": {"type": "text", "align": "left", "baseline": "middle", "fontSize": 17, "dx": {"expr": "datum.label === '=ns' ? -11 : -19"}}, "encoding": {"x": {"datum": "NT", "type": "nominal", "bandPosition": 1.2}, "y": {"field": "y", "type": "quantitative"}, "text": {"field": "label"}}}
 ]},
{"width": 145, "height": 238, "title": {"text": ">60 days", "offset": 9, "dx": 16}, "resolve": {"scale": {"xOffset": "independent"}},
 "layer": [
  {"data": {"name": "gm"}, "transform": [{"filter": "datum.r==='D'&&datum.c===3"}], "mark": {"type": "bar", "fill": "white", "stroke": "black", "strokeWidth": 2},
   "encoding": {"x": {"field": "g", "type": "nominal", "scale": {"type": "band", "domain": ["NT","T"], "paddingInner": 0.32, "paddingOuter": 0.2, "align": 0.6}, "axis": {"title": null}},
    "y": {"field": "m", "type": "quantitative", "scale": {"type": "log", "domain": [10, 100000]}, "axis": {"title": ["HCMV DNA copies/", "ml blood"], "titleLineHeight": 18, "titlePadding": 14, "values": [10,20,30,40,50,60,70,80,90,100,200,300,400,500,600,700,800,900,1000,2000,3000,4000,5000,6000,7000,8000,9000,10000,20000,30000,40000,50000,60000,70000,80000,90000,100000], "labelExpr": "indexof([10,100,1000,10000,100000,1000000], datum.value) >= 0 ? '10' + ['¹','²','³','⁴','⁵','⁶'][indexof([10,100,1000,10000,100000,1000000], datum.value)] : ''", "tickSize": {"condition": {"test": "indexof([10,100,1000,10000,100000,1000000], datum.value) >= 0", "value": 6}, "value": 3}, "tickWidth": {"condition": {"test": "indexof([10,100,1000,10000,100000,1000000], datum.value) >= 0", "value": 2}, "value": 1}}},
    "y2": {"datum": 10}}},
  {"data": {"name": "gm"}, "transform": [{"filter": "datum.r==='D'&&datum.c===3"}], "mark": {"type": "tick", "color": "black", "opacity": 1, "thickness": 3.5, "size": 51}, "encoding": {"x": {"field": "g", "type": "nominal"}, "y": {"field": "m", "type": "quantitative"}}},
  {"data": {"name": "ptxt"}, "transform": [{"filter": "datum.r==='D'&&datum.c===3"}], "mark": {"type": "rule", "strokeDash": [4,3], "strokeWidth": 2, "color": "black"}, "encoding": {"y": {"datum": 12}}},
  {"data": {"name": "pts"}, "transform": [{"filter": "datum.r==='D'&&datum.c===3"}], "mark": {"type": "point", "shape": "circle", "filled": true, "size": 95, "stroke": "black", "strokeWidth": 1, "opacity": 1},
   "encoding": {"x": {"field": "g", "type": "nominal"}, "xOffset": {"field": "k", "type": "quantitative", "scale": {"domain": [-1.65, 1.65]}}, "y": {"field": "v", "type": "quantitative"}, "fill": {"field": "g", "type": "nominal", "scale": {"domain": ["NT","T"], "range": ["#a6a6a6","#ffffff"]}, "legend": null}}},
  {"data": {"name": "ptxt"}, "transform": [{"filter": "datum.r==='D'&&datum.c===3"}], "mark": {"type": "text", "text": "P", "fontStyle": "italic", "align": "right", "baseline": "middle", "fontSize": 17, "dx": {"expr": "datum.label === '=ns' ? -11 : -19"}}, "encoding": {"x": {"datum": "NT", "type": "nominal", "bandPosition": 1.2}, "y": {"field": "y", "type": "quantitative"}}},
  {"data": {"name": "ptxt"}, "transform": [{"filter": "datum.r==='D'&&datum.c===3"}], "mark": {"type": "text", "align": "left", "baseline": "middle", "fontSize": 17, "dx": {"expr": "datum.label === '=ns' ? -11 : -19"}}, "encoding": {"x": {"datum": "NT", "type": "nominal", "bandPosition": 1.2}, "y": {"field": "y", "type": "quantitative"}, "text": {"field": "label"}}}
 ]}
]}
]
}
